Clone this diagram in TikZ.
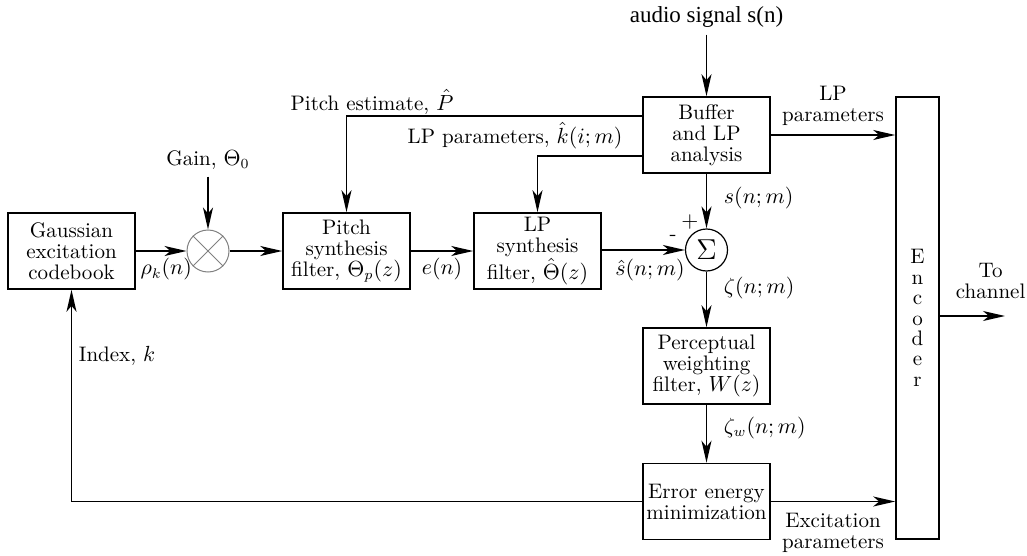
\documentclass[tikz,border=0pt]{standalone}
\usepackage{fontspec}
\usetikzlibrary{arrows.meta}
\newfontfamily\audiofont{Liberation Serif}
\newcommand\blockfont{\fontsize{10.5}{10.5}\selectfont}

\begin{document}
\begin{tikzpicture}[x=0.5pt,y=-0.5pt,
  >={Stealth[length=11pt,width=5pt,inset=3pt]},
  every node/.style={font=\blockfont},
  block/.style={draw,line width=0.8pt,minimum width=63.5pt,minimum height=38pt,
    align=center,inner sep=1pt},
  link/.style={->,line width=0.8pt}]
  \useasboundingbox (0,0) rectangle (1027,556);

  % blocks
  \node[block] (gauss) at (71.5,251) {Gaussian\\excitation\\codebook};
  \node[draw=gray,circle,line width=0.5pt,minimum size=21pt,inner sep=0pt] (mult) at (208,251) {};
  \draw[gray,line width=0.5pt] (mult.north west) -- (mult.south east)
    (mult.north east) -- (mult.south west);
  \node[block] (pitch) at (346.5,251) {Pitch\\synthesis\\filter, $\Theta_p(z)$};
  \node[block] (lpsyn) at (537.5,251) {LP\\synthesis\\filter, $\hat{\Theta}(z)$};
  \node[draw,circle,line width=0.6pt,minimum size=21pt,inner sep=0pt,font=\Large] (sum) at (706.5,250) {$\Sigma$};
  \node[block] (buffer) at (706.5,135) {Buffer\\and LP\\analysis};
  \node[block] (percep) at (706.5,366) {Perceptual\\weighting\\filter, $W(z)$};
  \node[block] (error) at (706.5,501.5) {Error energy\\minimization};
  \node[draw,line width=0.8pt,minimum width=21.5pt,minimum height=221pt,align=center,
    font=\fontsize{10.5}{10.2}\selectfont] (enc) at (917.5,318) {E\\n\\c\\o\\d\\e\\r};

  % inputs and labels
  \node[font=\audiofont\fontsize{11.5}{12}\selectfont] (audio) at (706.5,17) {audio signal s(n)};
  \node (gain) at (208,160) {Gain, $\Theta_0$};
  \node (pitchlbl) at (372,102) {Pitch estimate, $\hat{P}$};
  \node (lplbl) at (515,136) {LP parameters, $\hat{k}(i;m)$};
  \node at (690,222) {$+$};
  \node at (673,238) {-};
  \coordinate (out) at (1005,316);

  % connectors
  \draw[link] (audio) -- (buffer);
  \draw[link] (gain) -- (mult);
  \draw[link] (gauss) -- node[below,pos=0.6] {$\rho_k(n)$} (mult);
  \draw[link] (mult) -- (pitch);
  \draw[link] (pitch) -- node[below] {$e(n)$} (lpsyn);
  \draw[link] (lpsyn.east |- sum) -- node[below=1pt,pos=0.58] {$\hat{s}(n;m)$} (sum);
  \draw[link] ([yshift=9.5pt]buffer.west) -| (pitch.north);
  \draw[link] ([yshift=-10.5pt]buffer.west) -| (lpsyn.north);
  \draw[link] (buffer) -- node[right=5pt,pos=0.45] {$s(n;m)$} (sum);
  \draw[link] (sum) -- node[right=5pt,pos=0.3] {$\zeta(n;m)$} (percep);
  \draw[link] (percep) -- node[right=5pt,pos=0.4] {$\zeta_w(n;m)$} (error);
  \draw[link] (buffer) -- node[above=1pt,align=center] {LP\\parameters} (enc.west |- buffer);
  \draw[link] (error) -- node[below=2pt,align=center] {Excitation\\parameters} (enc.west |- error);
  \draw[link] (enc.east |- out) -- node[above=5pt,align=center,pos=0.78] {To\\channel} (out);
  \draw[link] (error.west) -| node[right,pos=0.845] {Index, $k$} (gauss.south);
\end{tikzpicture}
\end{document}
